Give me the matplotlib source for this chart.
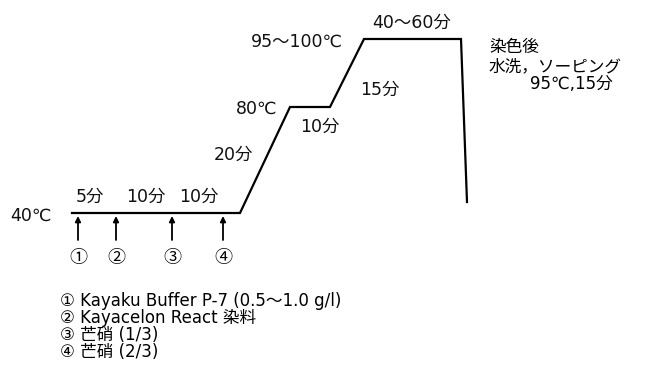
import matplotlib
matplotlib.use("Agg")
import matplotlib.pyplot as plt

plt.rcParams['font.family'] = ['DejaVu Sans', 'Noto Sans CJK JP']

# Schematic temperature profile (vertices in drawing units)
profile_x = [72, 240, 290, 330, 364, 461, 467]
profile_y = [213, 213, 107, 107, 39, 39, 202]

# Step labels
step_labels = ["40℃", "5分", "10分", "10分", "20分", "80℃", "10分", "15分", "95〜100℃", "40〜60分"]
step_pos = [(10, 216, 'left'), (90, 197, 'center'), (146, 197, 'center'), (199, 197, 'center'),
            (233, 155, 'center'), (257, 109, 'center'), (320, 127, 'center'), (380, 90, 'center'),
            (297, 42, 'center'), (412, 23, 'center')]

# Addition points
add_x = [78, 116, 172, 223]
add_marks = ["①", "②", "③", "④"]

# Notes
after_lines = ["染色後", "水洗，ソーピング", "95℃,15分"]
legend_lines = ["① Kayaku Buffer P-7 (0.5〜1.0 g/l)",
                "② Kayacelon React 染料",
                "③ 芒硝 (1/3)",
                "④ 芒硝 (2/3)"]

fig = plt.figure(figsize=(6.54, 3.68), dpi=100)
ax = fig.add_axes([0, 0, 1, 1])
ax.set_xlim(0, 654)
ax.set_ylim(368, 0)
ax.axis('off')

ax.plot(profile_x, profile_y, color='black', lw=1.6, solid_joinstyle='miter')

for lab, (x, y, ha) in zip(step_labels, step_pos):
    ax.text(x, y, lab, fontsize=12.5, ha=ha, va='center', color='#111111')

for x, m in zip(add_x, add_marks):
    ax.annotate('', xy=(x, 216), xytext=(x, 240),
                arrowprops=dict(arrowstyle='-|>', color='black', lw=1.3,
                                mutation_scale=8, shrinkA=0, shrinkB=0))
    ax.text(x, 258, m, fontsize=13, ha='center', va='center',
            family=['Noto Sans CJK JP', 'DejaVu Sans'])

ax.text(489, 47, after_lines[0], fontsize=12, ha='left', va='center')
ax.text(489, 66, after_lines[1], fontsize=12, ha='left', va='center')
ax.text(530, 84, after_lines[2], fontsize=12, ha='left', va='center')

for i, line in enumerate(legend_lines):
    ax.text(60, 301 + i * 17, line, fontsize=12, ha='left', va='center')

fig.savefig('out.png', dpi=100)
